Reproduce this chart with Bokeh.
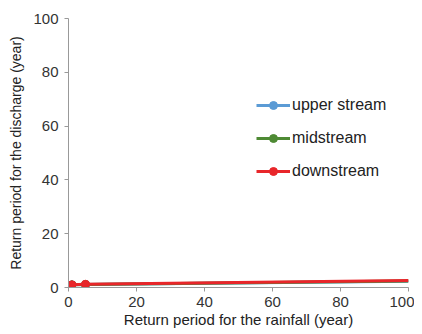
from bokeh.plotting import figure
from bokeh.embed import file_html
from bokeh.resources import INLINE
from bokeh.models import Range1d, Legend, LegendItem, FixedTicker

x_years = [1, 5, 100]
upper_stream = [1.0, 1.1, 2.3]
midstream = [1.0, 1.1, 2.4]
downstream = [1.0, 1.2, 2.6]
marker_count = 2  # markers visible at the first two points
tick_values = [0, 20, 40, 60, 80, 100]

series = [
    ("upper stream", upper_stream, "#5b9bd5"),
    ("midstream", midstream, "#4e8a34"),
    ("downstream", downstream, "#e8262a"),
]

p = figure(width=414, height=330, output_backend="svg", toolbar_location=None,
           x_range=Range1d(0, 100), y_range=Range1d(0, 100),
           min_border_left=68, min_border_right=6, min_border_top=18, min_border_bottom=41)
p.xgrid.visible = False
p.ygrid.visible = False
p.outline_line_color = None

items = []
for name, ys, col in series:
    r1 = p.line(x_years, ys, line_color=col, line_width=3)
    r2 = p.scatter(x_years[:marker_count], ys[:marker_count], size=8, fill_color=col, line_color=col)
    items.append(LegendItem(label=name, renderers=[r1, r2]))

legend = Legend(items=items, location=(188, 106), border_line_color=None,
                background_fill_alpha=0, label_text_font="Liberation Sans",
                label_text_font_size="16px", label_text_color="#222222",
                spacing=13, glyph_width=34, glyph_height=20, label_standoff=2,
                label_height=20, padding=0, margin=0)
p.add_layout(legend, "center")

for ax in (p.xaxis, p.yaxis):
    ax.ticker = FixedTicker(ticks=tick_values)
    ax.axis_line_color = "#999999"
    ax.major_tick_line_color = "#999999"
    ax.minor_tick_line_color = None
    ax.major_tick_out = 4
    ax.major_tick_in = 0
    ax.major_label_text_font = "Liberation Sans"
    ax.major_label_text_font_size = "15px"
    ax.major_label_text_color = "#333333"
    ax.axis_label_text_font = "Liberation Sans"
    ax.axis_label_text_font_style = "normal"
    ax.axis_label_text_color = "#222222"

p.xaxis.axis_label = "Return period for the rainfall (year)"
p.yaxis.axis_label = "Return period for the discharge (year)"
p.xaxis.axis_label_text_font_size = "15px"
p.yaxis.axis_label_text_font_size = "14px"
p.xaxis.axis_label_standoff = 1
p.yaxis.axis_label_standoff = 6
p.xaxis.major_label_standoff = 5
p.yaxis.major_label_standoff = 6

open("out.html", "w").write(file_html(p, INLINE))
